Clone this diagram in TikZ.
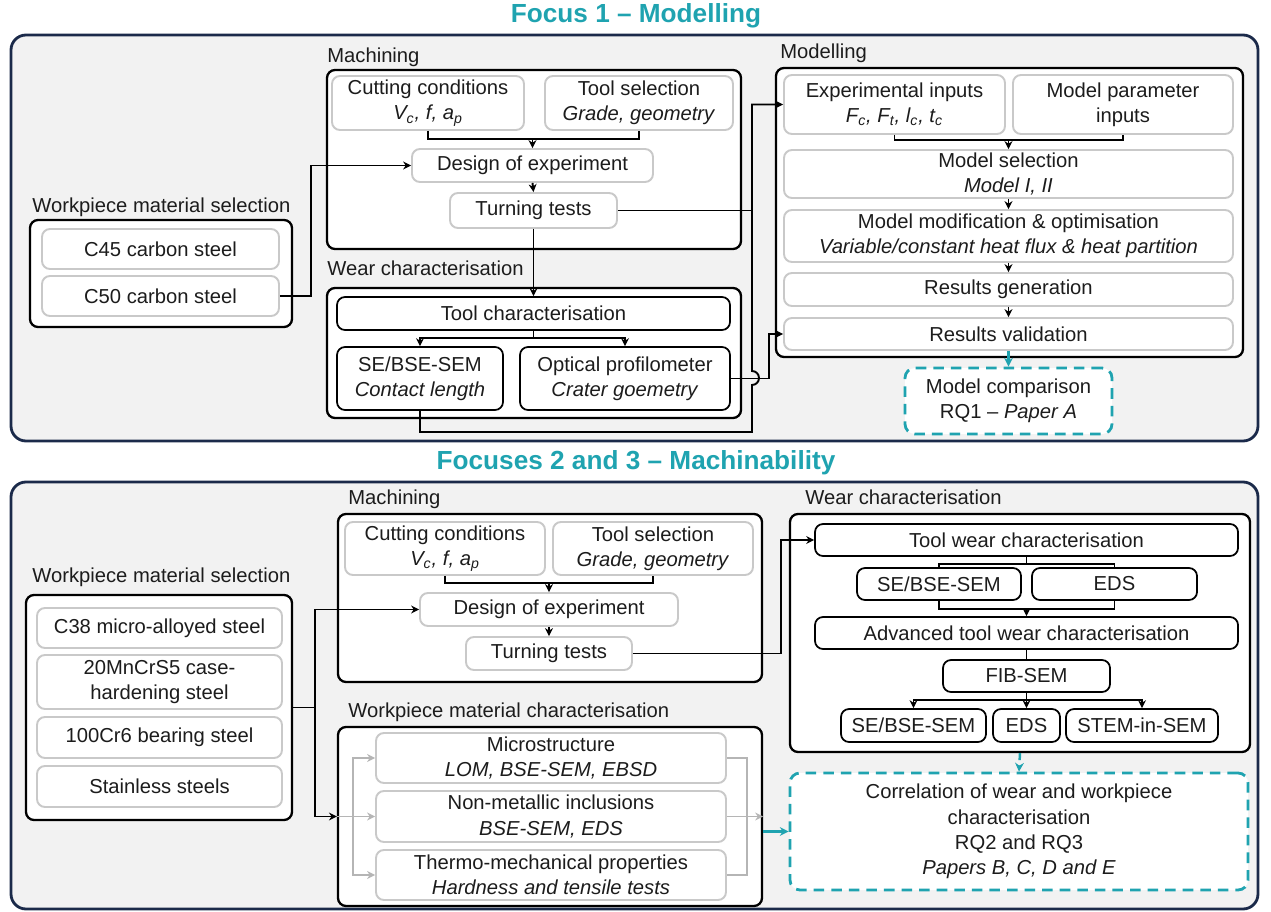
\documentclass[tikz,border=0pt]{standalone}
\usepackage{fontspec}
\setmainfont{Liberation Sans}
\usetikzlibrary{arrows.meta}

\definecolor{panelfill}{HTML}{F2F2F2}
\definecolor{panelline}{HTML}{1B2A4A}
\definecolor{softline}{HTML}{C9C9C9}
\definecolor{greyarrow}{HTML}{B5B5B5}
\definecolor{tealA}{HTML}{1FA3B0}
\definecolor{inktext}{HTML}{1C1C1C}

\tikzset{
  sz/.style 2 args={minimum width=#1*0.2mm, minimum height=#2*0.2mm},
  panel/.style={draw=panelline, fill=panelfill, line width=1.6pt, rounded corners=3mm, inner sep=0pt},
  group/.style={draw=black, fill=white, line width=1.3pt, rounded corners=1.6mm, inner sep=0pt},
  soft/.style={draw=softline, fill=white, line width=1.1pt, rounded corners=1.6mm, align=center, inner sep=0pt},
  hard/.style={soft, draw=black, line width=1pt},
  result/.style={draw=tealA, fill=white, line width=1.6pt, dash pattern=on 6pt off 4pt, rounded corners=2mm, align=center, inner sep=0pt},
  grplbl/.style={anchor=west, inner sep=0pt},
  heading/.style={font=\bfseries\fontsize{14.9}{17}\selectfont, text=tealA},
  link/.style={draw=black, line width=1.1pt},
  arr/.style={link, -{Stealth[length=4.5pt,width=4.5pt]}},
  gline/.style={draw=greyarrow, line width=1.1pt},
  garr/.style={gline, -{Stealth[length=4.5pt,width=4.5pt]}},
  tarr/.style={draw=tealA, line width=1.4pt, -{Stealth[length=5pt,width=5pt]}},
}

\begin{document}
\begin{tikzpicture}[x=0.2mm,y=-0.2mm,font=\fontsize{11.5}{14.4}\selectfont,text=inktext]

    \useasboundingbox (0,0) rectangle (1271,912);

    % Panels and headings
    \node [panel,sz={1247}{406}] (panA) at (634.5,238) {};
    \node [panel,sz={1247}{427}] (panB) at (634.5,695.5) {};
    \node [heading] (headA) at (636,16) {Focus 1 -- Modelling};
    \node [heading] (headB) at (636,463) {Focuses 2 and 3 -- Machinability};

    % ---- Focus 1 ----
    % Workpiece material selection
    \node [grplbl] (lblWMSA) at (32,207) {Workpiece material selection};
    \node [group,sz={262}{107}] (grpWMSA) at (161,273.5) {};
    \node [soft,sz={237}{40}] (c45) at (160.5,249) {C45 carbon steel};
    \node [soft,sz={237}{40}] (c50) at (160.5,296) {C50 carbon steel};

    % Machining
    \node [grplbl] (lblMachA) at (327,57) {Machining};
    \node [group,sz={414}{179}] (grpMachA) at (534,159.5) {};
    \node [soft,sz={192}{54}] (cutA) at (428,103) {Cutting conditions\\\textit{V\textsubscript{c}, f, a\textsubscript{p}}};
    \node [soft,sz={188}{54}] (toolA) at (639,103) {Tool selection\\\textit{Grade, geometry}};
    \node [soft,sz={241}{33}] (doeA) at (532.5,165.5) {Design of experiment};
    \node [soft,sz={167}{35}] (turnA) at (533.5,210.5) {Turning tests};

    % Wear characterisation
    \node [grplbl] (lblWearA) at (327,268) {Wear characterisation};
    \node [group,sz={414}{130}] (grpWearA) at (534,353) {};
    \node [hard,sz={393}{33}] (toolchar) at (533.5,313.5) {Tool characterisation};
    \node [hard,sz={166}{63}] (sebseA) at (420,378.5) {SE/BSE-SEM\\\textit{Contact length}};
    \node [hard,sz={210}{63}] (optic) at (625,378.5) {Optical profilometer\\\textit{Crater goemetry}};

    % Modelling
    \node [grplbl] (lblMod) at (780,53) {Modelling};
    \node [group,sz={467}{289}] (grpMod) at (1009.5,212.5) {};
    \node [soft,sz={221}{59}] (expin) at (894.5,104.5) {Experimental inputs\\\textit{F\textsubscript{c}, F\textsubscript{t}, l\textsubscript{c}, t\textsubscript{c}}};
    \node [soft,sz={220}{59}] (modpar) at (1123,104.5) {Model parameter\\inputs};
    \node [soft,sz={449}{48}] (modsel) at (1008.5,174) {Model selection\\\textit{Model I, II}};
    \node [soft,sz={449}{52}] (modmod) at (1008.5,236) {Model modification \& optimisation\\\textit{Variable/constant heat flux \& heat partition}};
    \node [soft,sz={449}{33}] (resgen) at (1008.5,289.5) {Results generation};
    \node [soft,sz={449}{32}] (resval) at (1008.5,334) {Results validation};
    \node [result,sz={207}{66}] (modcomp) at (1008.5,401) {Model comparison\\RQ1 -- \textit{Paper A}};

    % ---- Focuses 2 and 3 ----
    % Workpiece material selection
    \node [grplbl] (lblWMSB) at (32,577) {Workpiece material selection};
    \node [group,sz={266}{225}] (grpWMSB) at (159,707.5) {};
    \node [soft,sz={245}{40}] (c38) at (159.5,628) {C38 micro-alloyed steel};
    \node [soft,sz={245}{54}] (mncrs) at (159.5,682) {20MnCrS5 case-\\hardening steel};
    \node [soft,sz={245}{41}] (cr6) at (159.5,737.5) {100Cr6 bearing steel};
    \node [soft,sz={245}{41}] (stain) at (159.5,786.5) {Stainless steels};

    % Machining
    \node [grplbl] (lblMachB) at (348,499) {Machining};
    \node [group,sz={424}{168}] (grpMachB) at (550,598) {};
    \node [soft,sz={200}{53}] (cutB) at (445,548.5) {Cutting conditions\\\textit{V\textsubscript{c}, f, a\textsubscript{p}}};
    \node [soft,sz={200}{53}] (toolB) at (653,548.5) {Tool selection\\\textit{Grade, geometry}};
    \node [soft,sz={258}{33}] (doeB) at (549,609.5) {Design of experiment};
    \node [soft,sz={166}{33}] (turnB) at (549,653.5) {Turning tests};

    % Workpiece material characterisation
    \node [grplbl] (lblWMC) at (348,712) {Workpiece material characterisation};
    \node [group,sz={424}{179}] (grpWMC) at (550,816.5) {};
    \node [soft,sz={350}{50}] (micro) at (551,758) {Microstructure\\\textit{LOM, BSE-SEM, EBSD}};
    \node [soft,sz={350}{51}] (nonmet) at (551,816.5) {Non-metallic inclusions\\\textit{BSE-SEM, EDS}};
    \node [soft,sz={350}{50}] (thermo) at (551,875) {Thermo-mechanical properties\\\textit{Hardness and tensile tests}};

    % Wear characterisation
    \node [grplbl] (lblWearB) at (805,497) {Wear characterisation};
    \node [group,sz={460}{238}] (grpWearB) at (1020,633) {};
    \node [hard,sz={423}{32}] (toolwear) at (1026.5,540) {Tool wear characterisation};
    \node [hard,sz={164}{32}] (sebseB) at (939,584) {SE/BSE-SEM};
    \node [hard,sz={165}{32}] (edsB) at (1114.5,584) {EDS};
    \node [hard,sz={423}{32}] (adv) at (1026.5,633) {Advanced tool wear characterisation};
    \node [hard,sz={167}{32}] (fib) at (1026.5,676) {FIB-SEM};
    \node [hard,sz={145}{33}] (sebseC) at (913.5,725.5) {SE/BSE-SEM};
    \node [hard,sz={67}{33}] (edsC) at (1026.5,725.5) {EDS};
    \node [hard,sz={152}{33}] (stem) at (1142,725.5) {STEM-in-SEM};

    \node [result,sz={458}{117}] (corr) at (1019,831.5) {Correlation of wear and workpiece\\characterisation\\RQ2 and RQ3\\\textit{Papers B, C, D and E}};

    % ---- Connectors, Focus 1 ----
    \coordinate (hopA) at (752,385);
    \coordinate (hopB) at (752,432);
    \draw [arr] (c50.east) -- ++(31,0) |- (doeA.west);
    \draw [link] (cutA.south) -- ++(0,8) -| (toolA.south);
    \draw [arr] (cutA.south -| doeA.north) ++(0,8) -- (doeA.north);
    \draw [arr] (doeA.south) -- (turnA.north);
    \draw [arr] (turnA.south) -- (toolchar.north);
    \draw [arr] (toolchar.south) -- ++(0,7) -| (sebseA.north);
    \draw [arr] (toolchar.south) -- ++(0,7) -| (optic.north);
    \draw [link] (turnA.east) -- (turnA.east -| hopA);
    \draw [arr] (sebseA.south) |- (hopB) -- (hopA)
        arc [start angle=90,end angle=-90,radius=7] |- (expin.west);
    \draw [arr] (optic.east) -- ++(38,0) |- (resval.west);
    \draw [link] (expin.south) -- ++(0,5) -| (modpar.south);
    \draw [arr] (expin.south -| modsel.north) ++(0,5) -- (modsel.north);
    \foreach \a/\b in {modsel/modmod,modmod/resgen,resgen/resval}
        \draw [arr] (\a.south) -- (\b.north);
    \draw [tarr] (resval.south) -- (modcomp.north);

    % ---- Connectors, Focuses 2 and 3 ----
    \draw [arr] (grpWMSB.east) -- ++(22,0) |- (doeB.west);
    \draw [arr] (grpWMSB.east) -- ++(22,0) |- (grpWMC.west |- nonmet.west);
    \draw [link] (cutB.south) -- ++(0,7) -| (toolB.south);
    \draw [arr] (cutB.south -| doeB.north) ++(0,7) -- (doeB.north);
    \draw [arr] (doeB.south) -- (turnB.north);
    \draw [arr] (turnB.east) -- ++(148,0) |- (toolwear.west);

    \draw [link] (toolwear.south) -- ++(0,7) -| (sebseB.north);
    \draw [link] (toolwear.south) -- ++(0,7) -| (edsB.north);
    \draw [link] (sebseB.south) -- ++(0,8) -| (edsB.south);
    \draw [arr] (sebseB.south -| adv.north) ++(0,8) -- (adv.north);
    \draw [link] (adv.south) -- (fib.north);
    \foreach \t in {sebseC,edsC,stem}
        \draw [arr] (fib.south) -- ++(0,7) -| (\t.north);
    \draw [tarr,dash pattern=on 4pt off 3pt] (grpWearB.south) -- (corr.north);

    \draw [garr] (grpWMC.west |- nonmet.west) -- (nonmet.west);
    \draw [garr] (grpWMC.west |- nonmet.west) ++(16,0) |- (micro.west);
    \draw [garr] (grpWMC.west |- nonmet.west) ++(16,0) |- (thermo.west);
    \draw [gline] (micro.east) -- ++(20,0) |- (thermo.east);
    \draw [garr] (nonmet.east) -- (grpWMC.east |- nonmet.east);
    \draw [tarr] (grpWMC.east |- corr.west) -- (corr.west);

\end{tikzpicture}
\end{document}
